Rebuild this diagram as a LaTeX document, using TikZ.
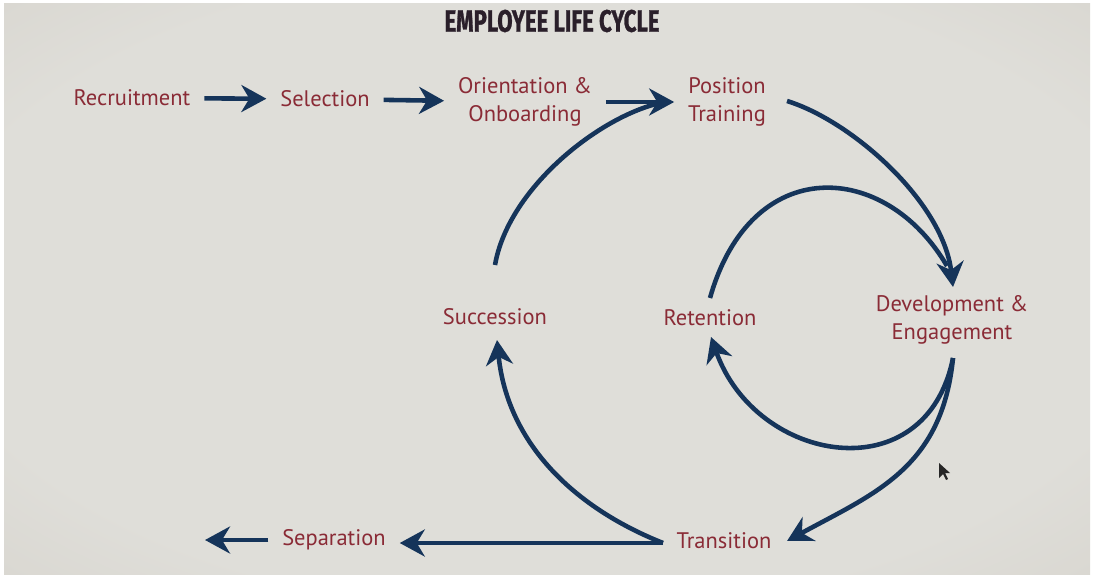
\documentclass[tikz,border=0pt]{standalone}
\usepackage{fontspec}
\usepackage{graphicx}
\usetikzlibrary{arrows.meta,calc}

\newfontfamily\stagefont{PT Sans}
\newfontfamily\headfont[FakeBold=1.2]{Fira Sans Bold}

\definecolor{stagered}{HTML}{8A2B36}
\definecolor{flowblue}{HTML}{15345A}
\definecolor{headink}{HTML}{2A1F2A}
\definecolor{scrmid}{HTML}{DFDED9}
\definecolor{scredge}{HTML}{D0CCC4}
\definecolor{scrcorner}{HTML}{BDB7AE}

\pgfdeclareradialshading{screenglow}{\pgfpoint{0bp}{0bp}}{color(0bp)=(scrmid); color(28bp)=(scrmid); color(50bp)=(scredge); color(72bp)=(scrcorner)}

\tikzset{
  stage/.style={text=stagered, font=\stagefont\fontsize{12.8}{15.9}\selectfont,
                align=center, inner sep=0pt, outer sep=0.28cm},
  flow/.style={draw=flowblue, line width=2.6pt,
               -{Stealth[length=0.5cm,width=0.54cm,inset=0.16cm]}},
  merge/.style={draw=flowblue, line width=2.6pt},
}

\begin{document}
\begin{tikzpicture}[x=0.02cm,y=-0.02cm]
\useasboundingbox (0,0) rectangle (1094,578);
\fill[white] (0,0) rectangle (1094,578);
\shade[shading=screenglow] (4,3) rectangle (1090,574);

\node [text=headink,inner sep=0pt] (title) at (552,21)
  {\resizebox{4.3cm}{0.44cm}{\headfont EMPLOYEE LIFE CYCLE}};

% the stages
\node [stage] (rec) at (132,98)  {Recruitment};
\node [stage] (sel) at (325,99)  {Selection};
\node [stage] (ori) at (525,102) {Orientation \&\\Onboarding};
\node [stage] (pos) at (727,102) {Position\\Training};
\node [stage] (suc) at (495,317) {Succession};
\node [stage] (ret) at (710,318) {Retention};
\node [stage] (dev) at (952,320) {Development \&\\Engagement};
\node [stage] (tra) at (724,541) {Transition};
\node [stage] (sep) at (334,540) {Separation};

% ends of the bent connectors
\coordinate (suc-out) at (495,265);
\coordinate (suc-in)  at (497,340);
\coordinate (pos-out) at (787,101);
\coordinate (pos-mrg) at (656,104);
\coordinate (ret-out) at (710,298);
\coordinate (ret-in)  at (711,337);
\coordinate (dev-in)  at (953,287);
\coordinate (dev-mrg) at (947,266);
\coordinate (dev-out) at (953,358);
\coordinate (tra-in)  at (787,541);
\coordinate (fork)    at (663,543);
\coordinate (exit)    at (205,540);

% straight run along the top
\draw [flow] (rec) -- (sel) ;
\draw [flow] (sel) -- (ori) ;
\draw [flow] (ori) -- (pos) ;

% the two loops
\draw [merge] (suc-out) .. controls (508,190) and (595,120) .. (pos-mrg) ;
\draw [flow]  (pos-out) .. controls (852,121) and (943,202) .. (dev-in) ;
\draw [merge] (ret-out) .. controls (751,153) and (885,160) .. (dev-mrg) ;
\draw [flow]  (dev-out) .. controls (926,493) and (756,464) .. (ret-in) ;
\draw [flow]  (dev-out) .. controls (942,468) and (875,493) .. (tra-in) ;
\draw [flow]  (fork) .. controls (570,506) and (507,440) .. (suc-in) ;

% leaving
\draw [flow] (fork) -- (fork -| sep.east) ;
\draw [flow] (sep.west) -- (exit) ;

% mouse pointer
\fill [black!85] (939,463) -- (939,478) -- (943,474) -- (946,480)
  -- (948,479) -- (945,473) -- (950,473) -- cycle ;
\end{tikzpicture}
\end{document}
